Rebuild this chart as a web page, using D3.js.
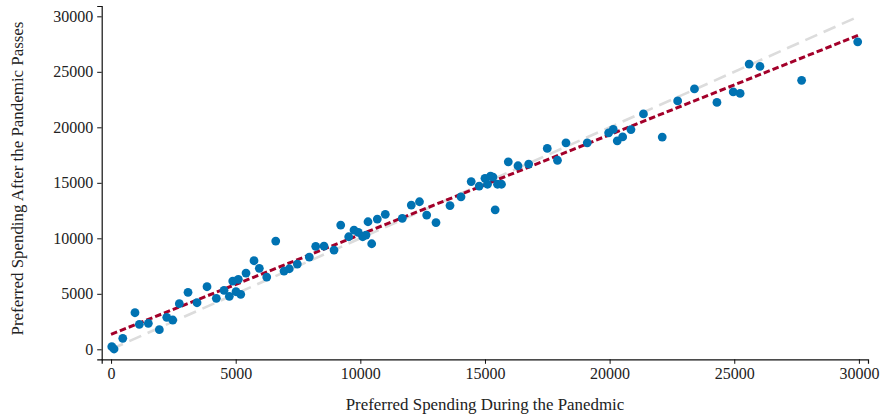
<!DOCTYPE html>
<html>
<head>
<meta charset="utf-8">
<script src="https://cdn.jsdelivr.net/npm/d3@7"></script>
<style>
  html, body { margin: 0; padding: 0; background: #fff; }
  svg text { font-family: "Liberation Serif", "DejaVu Serif", serif; fill: #222; }
</style>
</head>
<body>
<svg id="chart" width="881" height="417"></svg>
<script>
// Preferred spending during the pandemic (x) vs after it passes (y)
const duringSpending = [
  30, 120, 470, 960, 1135, 1496, 1937, 2234, 2475, 2739,
  3088, 3449, 3850, 4223, 4532, 4745, 4881, 5106, 5013, 5202,
  5414, 5735, 5948, 6245, 6606, 6939, 7151, 7472, 7953, 8210,
  8543, 8944, 9213, 9533, 9746, 9919, 10095, 10227, 10456, 10308,
  10681, 11001, 11683, 12044, 12373, 12662, 13035, 13597, 14038, 14447,
  14768, 15000, 15221, 15321, 15101, 15409, 15502, 15662, 15935, 16324,
  16753, 17499, 17908, 18249, 19103, 19961, 20146, 20306, 20523, 20856,
  21357, 22111, 22729, 23403, 24305, 24959, 25236, 25597, 26030, 27702,
  29952
];
const afterSpending = [
  234, 27, 990, 3296, 2252, 2342, 1765, 2882, 2639, 4107,
  5134, 4197, 5638, 4593, 5314, 4773, 6152, 6305, 5188, 4954,
  6872, 7980, 7295, 6512, 9754, 7052, 7259, 7683, 8313, 9277,
  9304, 8944, 11195, 10141, 10745, 10538, 10141, 10294, 9511, 11492,
  11736, 12159, 11799, 12996, 13294, 12096, 11420, 12951, 13735, 15113,
  14708, 15401, 15608, 15518, 14870, 12564, 14870, 14870, 16887, 16536,
  16689, 18094, 17031, 18607, 18607, 19508, 19814, 18779, 19139, 19796,
  21211, 19121, 22381, 23462, 22246, 23192, 23057, 25696, 25489, 24237,
  27704
];

// Tick values for both axes
const xTicks = [0, 5000, 10000, 15000, 20000, 25000, 30000];
const yTicks = [0, 5000, 10000, 15000, 20000, 25000, 30000];

// Fitted regression line and the y = x reference line
const fitIntercept = 1351;
const fitSlope = 0.8988;
const lineRange = [0, 30000];

const xLabel = "Preferred Spending During the Panedmic";
const yLabel = "Preferred Spending After the Pandemic Passes";

const svg = d3.select("#chart");

const x = d3.scaleLinear().domain([-375, 30365]).range([101.7, 868]);
const y = d3.scaleLinear().domain([-900, 30930]).range([359.3, 6]);

// Axes
const xAxis = d3.axisBottom(x).tickValues(xTicks).tickFormat(d3.format("d")).tickSizeOuter(0).tickSize(4.5).tickPadding(4);
const yAxis = d3.axisLeft(y).tickValues(yTicks).tickFormat(d3.format("d")).tickSizeOuter(0).tickSize(4.5).tickPadding(4);

const gx = svg.append("g").attr("transform", `translate(0,${y.range()[0]})`).call(xAxis);
const gy = svg.append("g").attr("transform", `translate(${x.range()[0]},0)`).call(yAxis);

[gx, gy].forEach(g => {
  g.select(".domain").attr("stroke", "#111").attr("stroke-width", 1.2);
  g.selectAll(".tick line").attr("stroke", "#111").attr("stroke-width", 1);
  g.selectAll(".tick text")
    .attr("font-family", "'Liberation Serif', 'DejaVu Serif', serif")
    .attr("font-size", 16)
    .attr("fill", "#222");
});

// Reference line y = x
svg.append("line")
  .attr("x1", x(lineRange[0])).attr("y1", y(lineRange[0]))
  .attr("x2", x(lineRange[1])).attr("y2", y(lineRange[1]))
  .attr("stroke", "#dcdcdc")
  .attr("stroke-width", 2.6)
  .attr("stroke-dasharray", "13,7");

// Regression fit line
svg.append("line")
  .attr("x1", x(lineRange[0])).attr("y1", y(fitIntercept + fitSlope * lineRange[0]))
  .attr("x2", x(lineRange[1])).attr("y2", y(fitIntercept + fitSlope * lineRange[1]))
  .attr("stroke", "#a3002a")
  .attr("stroke-width", 3)
  .attr("stroke-dasharray", "6.5,3");

// Scatter points
const pts = d3.zip(duringSpending, afterSpending);
svg.append("g")
  .selectAll("circle")
  .data(pts)
  .join("circle")
  .attr("cx", d => x(d[0]))
  .attr("cy", d => y(d[1]))
  .attr("r", 4.4)
  .attr("fill", "#0072b2");

// Axis titles
svg.append("text")
  .attr("x", 485)
  .attr("y", 410)
  .attr("text-anchor", "middle")
  .attr("font-size", 16.9)
  .text(xLabel);

svg.append("text")
  .attr("transform", `translate(23,178.5) rotate(-90)`)
  .attr("text-anchor", "middle")
  .attr("font-size", 16.9)
  .text(yLabel);
</script>
</body>
</html>
